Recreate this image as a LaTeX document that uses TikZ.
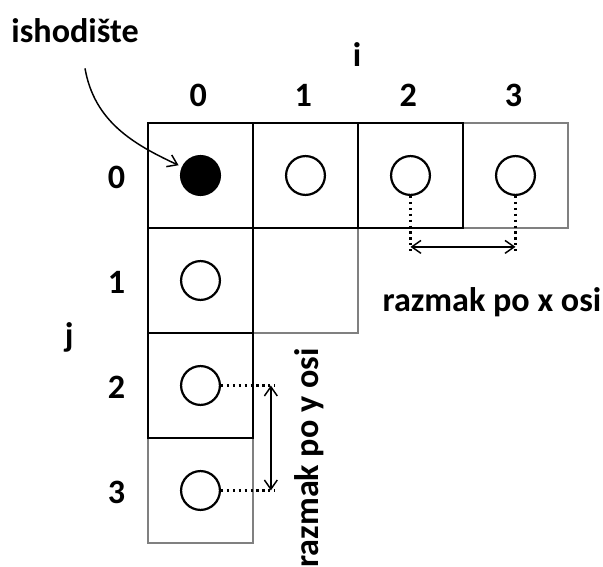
\documentclass[tikz,border=0pt]{standalone}
\usepackage{fontspec}
\setmainfont{Carlito}
\usetikzlibrary{calc,arrows.meta}

\begin{document}
\begin{tikzpicture}[x=2cm,y=-2cm,>={Straight Barb[length=5pt,width=7pt]},
  cell/.style={line width=1.2pt},
  graycell/.style={line width=1.2pt,black!50},
  pt/.style={circle,draw,line width=1.2pt,minimum size=0.74cm,inner sep=0pt},
  guide/.style={dotted,line width=1.2pt},
  lbl/.style={font=\fontsize{18.5}{22}\selectfont\bfseries,inner sep=0pt}]
\useasboundingbox (-1.4095,-1.1714) rectangle (4.3333,4.2286);
      % gray cells first, black ones on top
      \draw[graycell] (3,0) rectangle (4,1);
      \draw[graycell] (1,1) rectangle (2,2);
      \draw[graycell] (0,3) rectangle (1,4);
      \foreach \Cell in {(0,0),(1,0),(2,0),(0,1),(0,2)}
\draw[cell] \Cell rectangle ++(1,1);
      % points
      \node[pt,fill=black] (c00) at (0.5,0.5) {};
      \foreach \i in {1,2,3}
\node[pt] (c\i0) at (\i+0.5,0.5) {};
      \foreach \j in {1,2,3}
\node[pt] (c0\j) at (0.5,\j+0.5) {};
      % indices
      \foreach \k in {0,...,3} {
\node[lbl] (col\k) at (\k+0.48,-0.26) {\k};
\node[lbl] (row\k) at (-0.3,\k+0.52) {\k};
      }
\node[lbl] (iaxis) at (1.99,-0.65) {i};
\node[lbl] (jaxis) at (-0.75,2.04) {j};
      % origin
\node[lbl] (origin) at (-0.695,-0.876) {ishodište};
\coordinate (originstart) at (-0.6,-0.52);
      \draw[-{Straight Barb[length=5pt,width=7pt]},line width=0.8pt,shorten >=2pt] (originstart) to[out=-80,in=155] (c00);
      % spacing along x
\coordinate (dx2) at (2.5,1.23);
\coordinate (dx3) at (3.5,1.23);
\coordinate (ax2) at (2.5,1.18);
\coordinate (ax3) at (3.5,1.18);
      \draw[guide] (c20.south) -- (dx2);
      \draw[guide] (c30.south) -- (dx3);
      \draw[<->,line width=0.8pt] (ax2) -- (ax3);
\node[lbl] (xgap) at (3.276,1.705) {razmak po x osi};
      % spacing along y
\coordinate (dy2) at (1.21,2.5);
\coordinate (dy3) at (1.21,3.5);
\coordinate (ay2) at (1.17,2.5);
\coordinate (ay3) at (1.17,3.5);
      \draw[guide] (c02.east) -- (dy2);
      \draw[guide] (c03.east) -- (dy3);
      \draw[<->,line width=0.8pt] (ay2) -- (ay3);
\node[lbl,rotate=90] (ygap) at (1.533,3.19) {razmak po y osi};
    \end{tikzpicture}
\end{document}
